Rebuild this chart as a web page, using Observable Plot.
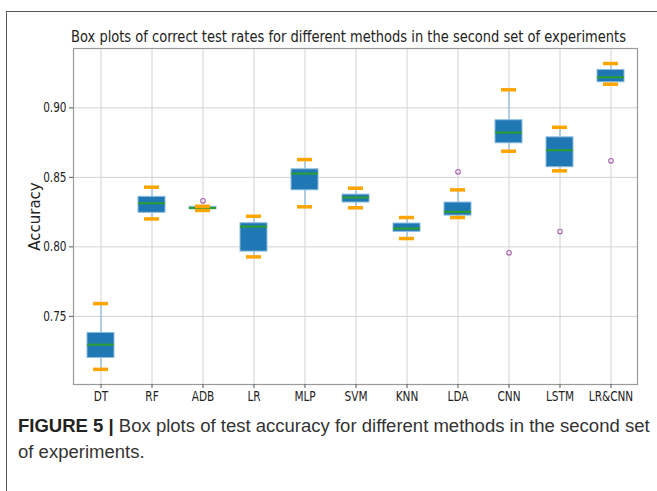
<!DOCTYPE html>
<html>
<head>
<meta charset="utf-8">
<script src="https://cdn.jsdelivr.net/npm/d3@7"></script>
<script src="https://cdn.jsdelivr.net/npm/@observablehq/plot@0.6"></script>
<style>
  html, body { margin: 0; padding: 0; background: #fff; }
  #page { position: relative; width: 657px; height: 491px; overflow: hidden; background: #fff; }
  #frame { position: absolute; left: 6px; top: 11px; width: 700px; height: 600px; border-left: 1.6px solid #555; border-top: 1.6px solid #555; box-sizing: border-box; }
  #chart { position: absolute; left: 0; top: 0; }
  #title { position: absolute; top: 28px; left: 0; white-space: nowrap; font-family: "DejaVu Sans"; font-size: 15.5px; color: #222; transform-origin: 0 0; }
  #caption { position: absolute; left: 18px; top: 413px; font-family: "Liberation Sans", Arial, sans-serif; font-size: 17px; line-height: 26px; color: #333; white-space: nowrap; }
  #caption b { color: #222; }
</style>
</head>
<body>
<div id="page">
  <div id="frame"></div>
  <div id="chart"></div>
  <div id="title">Box plots of correct test rates for different methods in the second set of experiments</div>
  <div id="caption"><span id="cap1"><b>FIGURE 5 |</b> Box plots of test accuracy for different methods in the second set</span><br><span id="cap2">of experiments.</span></div>
</div>
<script>
const methods = ["DT", "RF", "ADB", "LR", "MLP", "SVM", "KNN", "LDA", "CNN", "LSTM", "LR&CNN"];
const whiskerLow  = [0.7119, 0.8201, 0.8262, 0.7928, 0.8288, 0.8281, 0.8060, 0.8211, 0.8688, 0.8547, 0.9170];
const q1          = [0.7201, 0.8245, 0.8270, 0.7966, 0.8407, 0.8319, 0.8108, 0.8225, 0.8745, 0.8573, 0.9184];
const median      = [0.7297, 0.8314, 0.8280, 0.8146, 0.8527, 0.8355, 0.8132, 0.8252, 0.8822, 0.8695, 0.9220];
const q3          = [0.7381, 0.8360, 0.8288, 0.8170, 0.8558, 0.8376, 0.8168, 0.8319, 0.8911, 0.8788, 0.9273];
const whiskerHigh = [0.7592, 0.8429, 0.8292, 0.8220, 0.8628, 0.8422, 0.8211, 0.8410, 0.9130, 0.8860, 0.9319];
const outlierMethods = ["ADB", "LDA", "CNN", "LSTM", "LR&CNN"];
const outlierValues  = [0.8331, 0.8540, 0.7957, 0.8110, 0.8619];
const yTicks = [0.75, 0.80, 0.85, 0.90];

const stats = methods.map((m, i) => ({
  method: m, lo: whiskerLow[i], q1: q1[i], med: median[i], q3: q3[i], hi: whiskerHigh[i]
}));
const outliers = outlierMethods.map((m, i) => ({method: m, value: outlierValues[i]}));

const chart = Plot.plot({
  width: 657,
  height: 405,
  marginLeft: 73,
  marginRight: 20,
  marginTop: 48,
  marginBottom: 21,
  style: {fontFamily: "'DejaVu Sans'", fontSize: "14px", background: "transparent", color: "#222"},
  x: {type: "band", domain: methods, padding: 0},
  y: {domain: [0.701, 0.9427]},
  marks: [
    Plot.gridX(methods, {stroke: "#d2d2d2", strokeOpacity: 1, strokeWidth: 1}),
    Plot.gridY(yTicks, {stroke: "#d2d2d2", strokeOpacity: 1, strokeWidth: 1}),
    Plot.frame({stroke: "#9a9a9a", strokeWidth: 1.2}),
    Plot.ruleX(stats, {x: "method", y1: "lo", y2: "q1", stroke: "#9cc3e0", strokeWidth: 1.5}),
    Plot.ruleX(stats, {x: "method", y1: "q3", y2: "hi", stroke: "#9cc3e0", strokeWidth: 1.5}),
    Plot.barY(stats, {x: "method", y1: "q1", y2: "q3", fill: "#1f77b4", stroke: "#8dbde0", strokeWidth: 1, insetLeft: 12, insetRight: 12}),
    Plot.tickY(stats, {x: "method", y: "med", stroke: "#2ca02c", strokeWidth: 2, insetLeft: 12, insetRight: 12}),
    Plot.tickY(stats, {x: "method", y: "lo", stroke: "#ffa500", strokeWidth: 3.5, insetLeft: 18, insetRight: 18}),
    Plot.tickY(stats, {x: "method", y: "hi", stroke: "#ffa500", strokeWidth: 3.5, insetLeft: 18, insetRight: 18}),
    Plot.dot(outliers, {x: "method", y: "value", r: 2.3, stroke: "#a861ad", strokeWidth: 1.1, fill: "none"}),
    Plot.axisX({tickSize: 4, tickPadding: 3, stroke: "#555", label: null, fontSize: 14}),
    Plot.axisY({ticks: yTicks, tickFormat: d3.format(".2f"), tickSize: 4, tickPadding: 3, stroke: "#555", fontSize: 14,
      label: "Accuracy", labelAnchor: "center", labelArrow: "none", labelOffset: 44})
  ]
});
document.getElementById("chart").appendChild(chart);

// the reference's horizontal text is condensed: squeeze tick labels around their anchor
const squeeze = 0.75;
chart.querySelectorAll('g[aria-label="x-axis tick label"] text, g[aria-label="y-axis tick label"] text').forEach(t => {
  const tr = t.getAttribute("transform");
  if (tr) {
    t.setAttribute("transform", tr + ` scale(${squeeze},1)`);
  } else {
    const x = +(t.getAttribute("x") || 0), y = +(t.getAttribute("y") || 0);
    t.removeAttribute("x"); t.removeAttribute("y");
    t.setAttribute("transform", `translate(${x},${y}) scale(${squeeze},1)`);
  }
});
// y-axis label is vertical, so not condensed
chart.querySelectorAll("text").forEach(t => {
  if (t.textContent === "Accuracy") {
    t.setAttribute("font-size", "15");
    t.style.fontSize = "15px";
  }
});

// fit the title to the reference width (condensed look)
const title = document.getElementById("title");
const tw = title.getBoundingClientRect().width;
const targetW = 555, centerX = 348;
title.style.transform = `scaleX(${targetW / tw})`;
title.style.left = (centerX - targetW / 2) + "px";

// fit caption line 1 width
const cap = document.getElementById("caption");
const cw = document.getElementById("cap1").getBoundingClientRect().width;
cap.style.fontSize = (17 * 632 / cw).toFixed(2) + "px";
</script>
</body>
</html>
